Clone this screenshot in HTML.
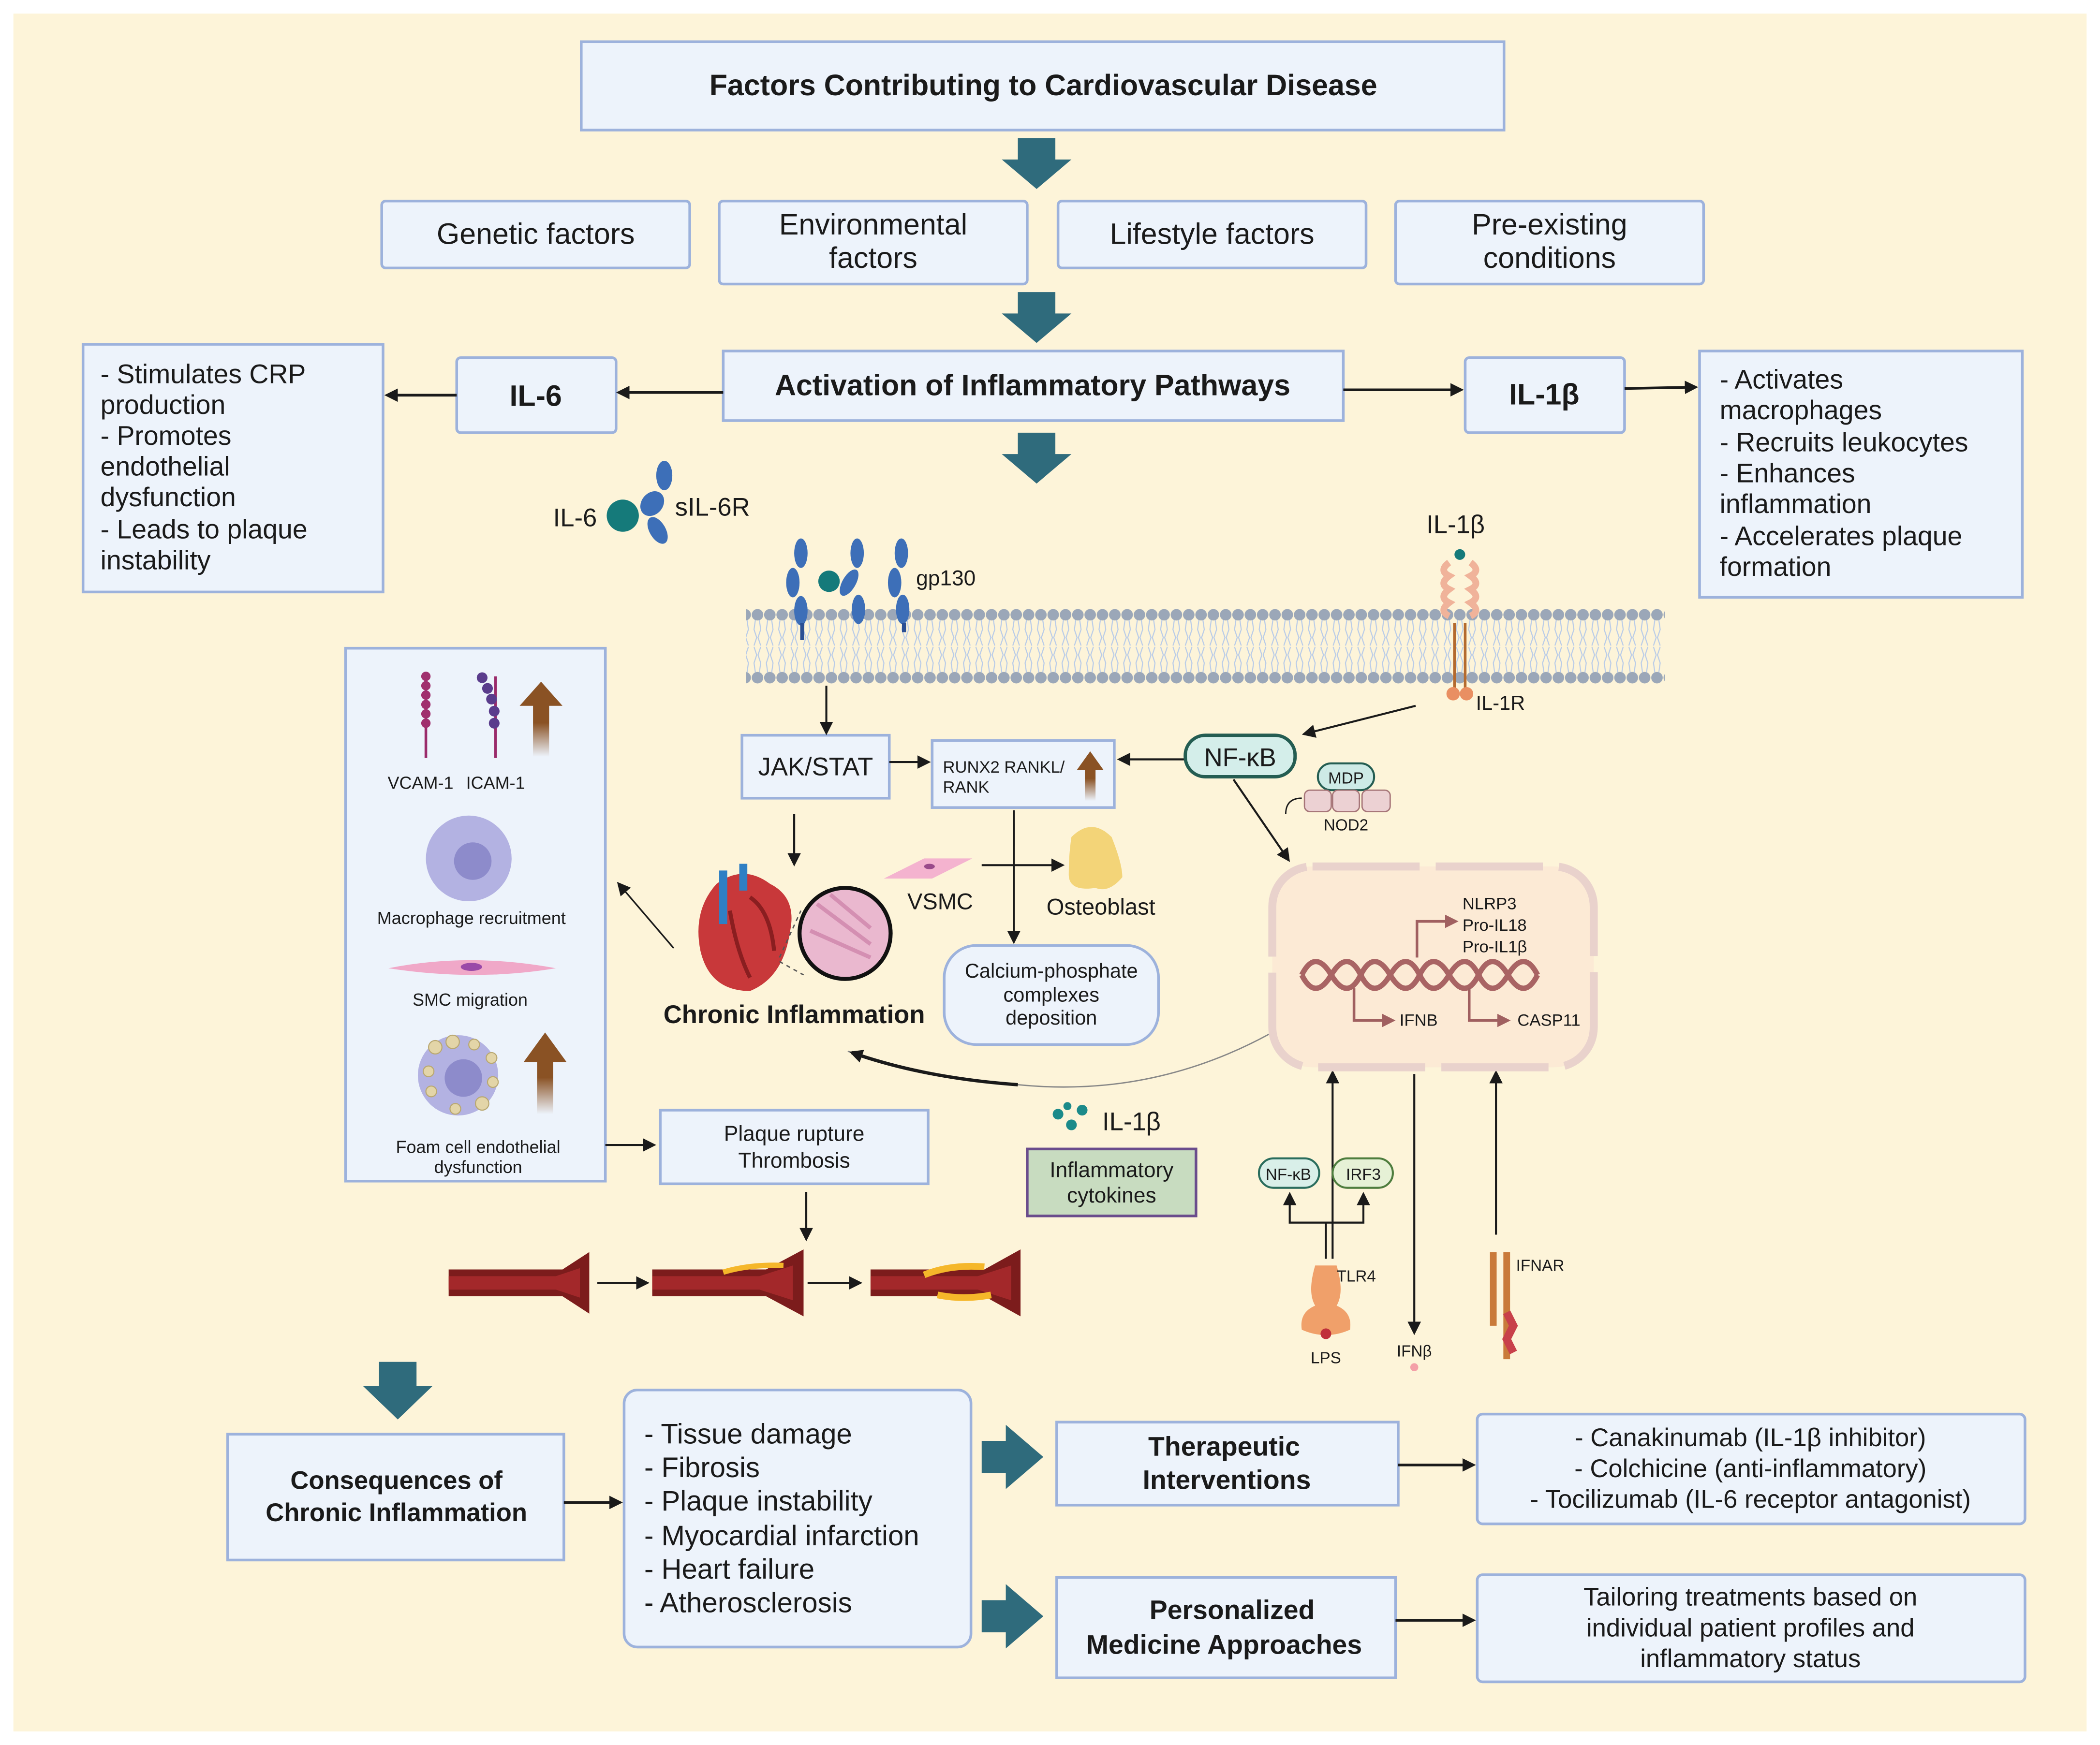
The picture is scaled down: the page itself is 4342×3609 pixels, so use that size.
<!DOCTYPE html>
<html><head><meta charset="utf-8"><style>
html,body{margin:0;padding:0;background:#fff}
svg{display:block}
text{font-family:"Liberation Sans",sans-serif;fill:#1a1a1a}
.b{font-weight:bold}
</style></head><body>
<svg width="4342" height="3609" viewBox="0 0 1568 1303" xmlns="http://www.w3.org/2000/svg">
<defs>
<pattern id="lip" x="561" y="0" width="9.2" height="1303" patternUnits="userSpaceOnUse">
<circle cx="4.6" cy="459" r="4.3" fill="#9ba7b8"/>
<circle cx="4.6" cy="506" r="4.3" fill="#9ba7b8"/>
<path d="M3 463 L2 470 L4 476 L2 482 M6 463 L7 470 L5 476 L7 482 M3 502 L2 495 L4 489 L2 483 M6 502 L7 495 L5 489 L7 483" stroke="#b8cbe8" stroke-width="0.8" fill="none"/>
</pattern>
<marker id="ah" markerWidth="10" markerHeight="10" refX="8" refY="5" orient="auto" markerUnits="userSpaceOnUse"><path d="M0,0 L10,5 L0,10 z" fill="#1a1a1a"/></marker>
<marker id="ahr" markerWidth="10" markerHeight="10" refX="8" refY="5" orient="auto" markerUnits="userSpaceOnUse"><path d="M0,0 L10,5 L0,10 z" fill="#a06060"/></marker>
<linearGradient id="br" x1="0" y1="0" x2="0" y2="1"><stop offset="0.55" stop-color="#8a5224"/><stop offset="1" stop-color="#8a5224" stop-opacity="0"/></linearGradient>
</defs>
<rect width="1568" height="1303" fill="#fff"/>
<rect x="10" y="10" width="1548" height="1283" fill="#fdf4d9"/>

<g fill="#edf3fb" stroke="#9db2dc" stroke-width="2">
<rect x="434" y="31" width="689" height="66"/>
<rect x="285" y="150" width="230" height="50" rx="3"/>
<rect x="537" y="150" width="230" height="62" rx="3"/>
<rect x="790" y="150" width="230" height="50" rx="3"/>
<rect x="1042" y="150" width="230" height="62" rx="3"/>
<rect x="540" y="262" width="463" height="52"/>
<rect x="341" y="267" width="119" height="56" rx="3"/>
<rect x="1094" y="267" width="119" height="56" rx="3"/>
<rect x="62" y="257" width="224" height="185"/>
<rect x="1269" y="262" width="241" height="184"/>
<rect x="258" y="484" width="194" height="398"/>
<rect x="554" y="549" width="110" height="47"/>
<rect x="696" y="553" width="136" height="50"/>
<rect x="705" y="706" width="160" height="74" rx="24"/>
<rect x="493" y="829" width="200" height="55"/>
<rect x="170" y="1071" width="251" height="94"/>
<rect x="466" y="1038" width="259" height="192" rx="10"/>
<rect x="789" y="1062" width="255" height="62"/>
<rect x="789" y="1178" width="253" height="75"/>
<rect x="1103" y="1056" width="409" height="82" rx="4"/>
<rect x="1103" y="1176" width="409" height="80" rx="4"/>
</g>

<g fill="#2f6b7c">
<path d="M760 103h28v16h12l-26 22-26-22h12z"/>
<path d="M760 218h28v16h12l-26 22-26-22h12z"/>
<path d="M760 323h28v16h12l-26 22-26-22h12z"/>
<path d="M283 1017h28v18h12l-26 25-26-25h12z"/>
<path d="M733 1076h18v-12l28 24-28 24v-12h-18z"/>
<path d="M733 1195h18v-12l28 24-28 24v-12h-18z"/>
</g>

<g font-size="22" text-anchor="middle">
<text x="779" y="71" class="b" font-size="22">Factors Contributing to Cardiovascular Disease</text>
<text x="400" y="182">Genetic factors</text>
<text x="652" y="175">Environmental</text><text x="652" y="200">factors</text>
<text x="905" y="182">Lifestyle factors</text>
<text x="1157" y="175">Pre-existing</text><text x="1157" y="200">conditions</text>
<text x="771" y="295" class="b">Activation of Inflammatory Pathways</text>
<text x="400" y="303" class="b">IL-6</text>
<text x="1153" y="302" class="b">IL-1β</text>
</g>
<g font-size="20">
<text x="75" y="286">- Stimulates CRP</text><text x="75" y="309">production</text><text x="75" y="332">- Promotes</text><text x="75" y="355">endothelial</text><text x="75" y="378">dysfunction</text><text x="75" y="402">- Leads to plaque</text><text x="75" y="425">instability</text>
<text x="1284" y="290">- Activates</text><text x="1284" y="313">macrophages</text><text x="1284" y="337">- Recruits leukocytes</text><text x="1284" y="360">- Enhances</text><text x="1284" y="383">inflammation</text><text x="1284" y="407">- Accelerates plaque</text><text x="1284" y="430">formation</text>
</g>

<g stroke="#1a1a1a" stroke-width="2" fill="none" marker-end="url(#ah)">
<path d="M540 293H462"/><path d="M341 295H289"/><path d="M1003 291H1091"/><path d="M1213 290L1266 289"/>
<path d="M617 512V547" stroke-width="1.5"/>
<path d="M664 569H693" stroke-width="1.5"/>
<path d="M885 567H836" stroke-width="1.5"/>
<path d="M1057 527L974 548" stroke-width="1.5"/>
<path d="M921 582L962 642" stroke-width="1.5"/>
<path d="M593 608V645" stroke-width="1.5"/>
<path d="M733 646H793" stroke-width="1.5"/>
<path d="M757 615V703" stroke-width="1.5"/>
<path d="M503 708L462 660" stroke-width="1.2"/>
<path d="M452 855H488" stroke-width="1.5"/>
<path d="M602 890V925" stroke-width="1.5"/>
<path d="M446 958H483" stroke-width="1.5"/>
<path d="M603 958H642" stroke-width="1.5"/>
<path d="M421 1122H463"/><path d="M1044 1094H1100"/><path d="M1042 1210H1100"/>
<path d="M995 940V801" stroke-width="1.5"/>
<path d="M1117 922V801" stroke-width="1.5"/>
<path d="M1056 802V995" stroke-width="1.5"/>
<path d="M990 940V913H963V892" stroke-width="1.5"/>
<path d="M990 913H1018V892" stroke-width="1.5"/>
</g>
<path d="M948 772Q860 820 760 810Q690 805 633 785" stroke="#888" stroke-width="1" fill="none"/>
<path d="M760 810Q690 805 636 786" stroke="#1a1a1a" stroke-width="2.5" fill="none" marker-end="url(#ah)"/>
<path d="M757 605V632" stroke="#1a1a1a" stroke-width="1.5"/>

<rect x="557" y="452" width="686" height="60" fill="url(#lip)"/>

<circle cx="465" cy="385" r="12" fill="#157a7a"/>
<g fill="#3d6fb8">
<ellipse cx="496" cy="355" rx="6" ry="11"/><ellipse cx="487" cy="376" rx="8" ry="10" transform="rotate(40 487 376)"/><ellipse cx="491" cy="396" rx="6" ry="11" transform="rotate(-30 491 396)"/>
<ellipse cx="598" cy="413" rx="5" ry="11"/><ellipse cx="592" cy="435" rx="5" ry="11"/><ellipse cx="598" cy="456" rx="5" ry="11"/>
<ellipse cx="640" cy="413" rx="5" ry="11"/><ellipse cx="634" cy="435" rx="5" ry="11" transform="rotate(30 634 435)"/><ellipse cx="641" cy="455" rx="5" ry="11"/>
<ellipse cx="673" cy="413" rx="5" ry="11"/><ellipse cx="668" cy="435" rx="5" ry="11"/><ellipse cx="674" cy="455" rx="5" ry="11"/>
</g>
<path d="M599 465V478M675 465V472" stroke="#2a4f94" stroke-width="3"/>
<circle cx="619" cy="434" r="8" fill="#157a7a"/>
<text x="413" y="393" font-size="19">IL-6</text>
<text x="504" y="385" font-size="19">sIL-6R</text>
<text x="684" y="437" font-size="16">gp130</text>

<text x="1065" y="398" font-size="19">IL-1β</text>
<circle cx="1090" cy="414" r="4" fill="#157a7a"/>
<path d="M1082 420q-8 6 0 10q-8 6 0 10q-8 6 0 10q-8 6 0 10 M1098 420q8 6 0 10q8 6 0 10q8 6 0 10q8 6 0 10" stroke="#f0b39a" stroke-width="5" fill="none"/>
<path d="M1086 465V515M1094 465V515" stroke="#b46a2e" stroke-width="2"/>
<circle cx="1085" cy="518" r="5" fill="#e98f62"/><circle cx="1095" cy="518" r="5" fill="#e98f62"/>
<text x="1102" y="530" font-size="15">IL-1R</text>

<text x="609" y="579" font-size="19" text-anchor="middle">JAK/STAT</text>
<text x="704" y="577" font-size="12.5">RUNX2 RANKL/</text><text x="704" y="592" font-size="12.5">RANK</text>
<path d="M810 598V575h-6l10-14 10 14h-6v23z" fill="url(#br)"/>
<rect x="885" y="549" width="82" height="31" rx="15" fill="#d4eeea" stroke="#245d52" stroke-width="2.5"/>
<text x="926" y="572" font-size="19" text-anchor="middle">NF-κB</text>
<rect x="984" y="570" width="42" height="20" rx="10" fill="#cdeae6" stroke="#245d52" stroke-width="1.5"/>
<text x="1005" y="585" font-size="12" text-anchor="middle">MDP</text>
<g fill="#ecd1d3" stroke="#a67578" stroke-width="1"><rect x="974" y="590" width="20" height="16" rx="4"/><rect x="995" y="590" width="20" height="16" rx="4"/><rect x="1017" y="590" width="21" height="16" rx="4"/></g>
<path d="M972 596q-12 0-12 12" stroke="#1a1a1a" fill="none"/>
<text x="1005" y="620" font-size="12" text-anchor="middle">NOD2</text>

<path d="M535 660q20-15 40 0q20 10 15 35q-5 35-30 45q-30 0-37-30q-6-30 12-50z" fill="#c8383a"/>
<path d="M560 670q15 10 18 40M545 680q5 30 15 50" stroke="#8a1e20" stroke-width="3" fill="none"/>
<path d="M540 650v40M555 645v20" stroke="#2f7fc4" stroke-width="6"/>
<circle cx="631" cy="697" r="34" fill="#eab8cf" stroke="#111" stroke-width="3"/>
<path d="M610 675l40 30M605 695l45 20M620 668l30 25" stroke="#d48fb2" stroke-width="3"/>
<path d="M582 715L598 680M582 718L600 728" stroke="#555" stroke-dasharray="3 3"/>
<text x="593" y="764" font-size="19" class="b" text-anchor="middle">Chronic Inflammation</text>
<path d="M660 656l30-15 36 0-30 15z" fill="#f4b3cf"/><ellipse cx="694" cy="647" rx="4" ry="2" fill="#9a4a8a"/>
<text x="702" y="679" font-size="17" text-anchor="middle">VSMC</text>
<path d="M800 625q15-15 30 0q8 20 8 30q-10 12-20 8q-20 3-20-10q0-15 2-28z" fill="#f3d478"/>
<text x="822" y="683" font-size="17" text-anchor="middle">Osteoblast</text>
<text x="785" y="730" font-size="15" text-anchor="middle">Calcium-phosphate</text>
<text x="785" y="748" font-size="15" text-anchor="middle">complexes</text>
<text x="785" y="765" font-size="15" text-anchor="middle">deposition</text>

<rect x="950" y="647" width="240" height="150" rx="30" fill="#fbe6d3" fill-opacity="0.7" stroke="#e9d2cc" stroke-width="6" stroke-dasharray="80 12"/>
<path d="M972 728q10-20 22 0t22 0t22 0t22 0t22 0t22 0t22 0t22 0M972 728q10 20 22 0t22 0t22 0t22 0t22 0t22 0t22 0t22 0" stroke="#a96464" stroke-width="4" fill="none"/>
<g stroke="#a06060" stroke-width="2" fill="none" marker-end="url(#ahr)">
<path d="M1058 715V688H1087"/><path d="M1011 738V762H1040"/><path d="M1097 738V762H1126"/>
</g>
<g font-size="12.5"><text x="1092" y="679">NLRP3</text><text x="1092" y="695">Pro-IL18</text><text x="1092" y="711">Pro-IL1β</text><text x="1045" y="766">IFNB</text><text x="1133" y="766">CASP11</text></g>

<path d="M318 502V566M370 505V566" stroke="#9a2a6a" stroke-width="2"/>
<g fill="#a0306e"><circle cx="318" cy="505" r="3.5"/><circle cx="318" cy="512" r="3.5"/><circle cx="318" cy="519" r="3.5"/><circle cx="318" cy="526" r="3.5"/><circle cx="318" cy="533" r="3.5"/><circle cx="318" cy="540" r="3.5"/></g>
<g fill="#5a3c8c"><circle cx="360" cy="506" r="4"/><circle cx="364" cy="514" r="4"/><circle cx="367" cy="522" r="4"/><circle cx="369" cy="531" r="4"/><circle cx="369" cy="540" r="4"/></g>
<path d="M398 565V527h-10l16-18 16 18h-10v38z" fill="url(#br)"/>
<text x="314" y="589" font-size="13" text-anchor="middle">VCAM-1</text><text x="370" y="589" font-size="13" text-anchor="middle">ICAM-1</text>
<circle cx="350" cy="641" r="32" fill="#b3b2e2"/><circle cx="353" cy="643" r="14" fill="#8d8bcb"/>
<text x="352" y="690" font-size="13" text-anchor="middle">Macrophage recruitment</text>
<path d="M290 723q60-12 125 0q-60 10-125 0z" fill="#f0a8c8"/><ellipse cx="352" cy="722" rx="8" ry="3" fill="#9a4aa8"/>
<text x="351" y="751" font-size="13" text-anchor="middle">SMC migration</text>
<circle cx="342" cy="803" r="30" fill="#b3b2e2"/><circle cx="346" cy="805" r="14" fill="#8d8bcb"/>
<g fill="#e3d5a8" stroke="#b9a871" stroke-width="0.8"><circle cx="325" cy="782" r="5"/><circle cx="338" cy="778" r="5"/><circle cx="354" cy="780" r="4"/><circle cx="367" cy="790" r="4"/><circle cx="320" cy="800" r="4"/><circle cx="322" cy="815" r="4"/><circle cx="340" cy="828" r="4"/><circle cx="360" cy="824" r="5"/><circle cx="368" cy="808" r="4"/></g>
<path d="M401 832V793h-10l16-22 16 22h-10v39z" fill="url(#br)"/>
<text x="357" y="861" font-size="13" text-anchor="middle">Foam cell endothelial</text><text x="357" y="876" font-size="13" text-anchor="middle">dysfunction</text>

<text x="593" y="852" font-size="16" text-anchor="middle">Plaque rupture</text><text x="593" y="872" font-size="16" text-anchor="middle">Thrombosis</text>

<g fill="#1b8a8a"><circle cx="790" cy="832" r="4"/><circle cx="800" cy="840" r="4"/><circle cx="808" cy="829" r="4"/><circle cx="797" cy="826" r="3"/></g>
<text x="823" y="844" font-size="19">IL-1β</text>
<rect x="767" y="858" width="126" height="50" fill="#c8dcc0" stroke="#6a4c8c" stroke-width="2"/>
<text x="830" y="879" font-size="16" text-anchor="middle">Inflammatory</text><text x="830" y="898" font-size="16" text-anchor="middle">cytokines</text>

<g>
<path d="M335 948h85l20-13v46l-20-13h-85z" fill="#7c1c1c"/><path d="M335 953h80l18-6v22l-18-6h-80z" fill="#a3282a"/>
<path d="M487 948h85l28-15v50l-28-15h-85z" fill="#7c1c1c"/><path d="M487 953h80l25-8v26l-25-8h-80z" fill="#a3282a"/><path d="M540 950q20-6 45-5" stroke="#f5b72a" stroke-width="4" fill="none"/>
<path d="M650 948h85l27-15v50l-27-15h-85z" fill="#7c1c1c"/><path d="M650 953h80l25-8v26l-25-8h-80z" fill="#a3282a"/><path d="M690 952q20-8 45-6M700 967q20 4 40 0" stroke="#f5b72a" stroke-width="5" fill="none"/>
</g>

<rect x="940" y="865" width="45" height="22" rx="11" fill="#d9efe9" stroke="#2a6d5d" stroke-width="1.5"/><text x="962" y="881" font-size="12" text-anchor="middle">NF-κB</text>
<rect x="995" y="865" width="45" height="22" rx="11" fill="#e6f1d6" stroke="#4e7d3e" stroke-width="1.5"/><text x="1018" y="881" font-size="12" text-anchor="middle">IRF3</text>
<path d="M982 945q-6 20 0 30q-12 5-10 18q18 8 36 0q2-13-10-18q6-10 0-30z" fill="#f0a06a"/>
<circle cx="990" cy="996" r="4" fill="#c0303a"/>
<text x="998" y="957" font-size="12">TLR4</text><text x="990" y="1018" font-size="12" text-anchor="middle">LPS</text>
<text x="1056" y="1013" font-size="12" text-anchor="middle">IFNβ</text><circle cx="1056" cy="1021" r="3" fill="#f4a0a8"/>
<path d="M1115 935V990M1125 935V1015" stroke="#c97a3a" stroke-width="5"/>
<path d="M1125 980l5 10-5 10 5 10" stroke="#c8404a" stroke-width="6" fill="none"/>
<text x="1132" y="949" font-size="12">IFNAR</text>

<g font-size="19" text-anchor="middle" class="b">
<text x="296" y="1112" class="b">Consequences of</text><text x="296" y="1136" class="b">Chronic Inflammation</text>
<text x="914" y="1087" class="b" font-size="20">Therapeutic</text><text x="916" y="1112" class="b" font-size="20">Interventions</text>
<text x="920" y="1209" class="b" font-size="20">Personalized</text><text x="914" y="1235" class="b" font-size="20">Medicine Approaches</text>
</g>
<g font-size="21">
<text x="481" y="1078">- Tissue damage</text><text x="481" y="1103">- Fibrosis</text><text x="481" y="1128">- Plaque instability</text><text x="481" y="1154">- Myocardial infarction</text><text x="481" y="1179">- Heart failure</text><text x="481" y="1204">- Atherosclerosis</text>
</g>
<g font-size="19" text-anchor="middle">
<text x="1307" y="1080">- Canakinumab (IL-1β inhibitor)</text><text x="1307" y="1103">- Colchicine (anti-inflammatory)</text><text x="1307" y="1126">- Tocilizumab (IL-6 receptor antagonist)</text>
<text x="1307" y="1199">Tailoring treatments based on</text><text x="1307" y="1222">individual patient profiles and</text><text x="1307" y="1245">inflammatory status</text>
</g>
</svg>
</body></html>
